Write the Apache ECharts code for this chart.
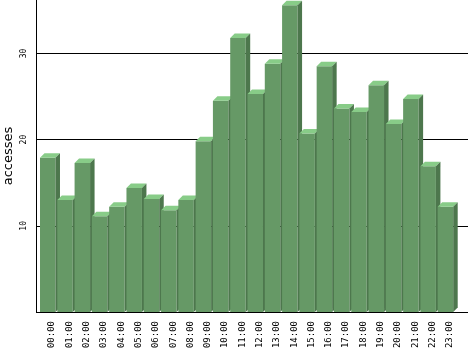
<!DOCTYPE html>
<html>
<head>
<meta charset="utf-8">
<script src="https://cdn.jsdelivr.net/npm/echarts@6/dist/echarts.min.js"></script>
<style>
  html, body { margin: 0; padding: 0; background: #fff; }
  #chart { width: 468px; height: 351px; }
</style>
</head>
<body>
<div id="chart"></div>
<script>
var hours = ['00:00','01:00','02:00','03:00','04:00','05:00','06:00','07:00','08:00','09:00','10:00','11:00',
	'12:00','13:00','14:00','15:00','16:00','17:00','18:00','19:00','20:00','21:00','22:00','23:00'];
var accesses = [17.9,13.0,17.3,11.1,12.2,14.4,13.1,11.8,13.0,19.8,24.5,31.8,
	25.3,28.8,35.6,20.7,28.5,23.6,23.2,26.3,21.8,24.7,16.9,12.2];
var yTicks = [10, 20, 30];
var yMax = 36.2;

function bar3d(params, api){
	var c = api.coord([api.value(0), api.value(1)]);
	var base = api.coord([api.value(0), 0])[1];
	var bw = api.size([1, 0])[0];
	var d = 4.5;
	var x0 = c[0] - bw / 2 + 0.5;
	var w = bw - 1.8;
	var top = c[1];
	return {
		type: 'group',
		children: [{
			type: 'rect',
			shape: { x: x0, y: top, width: w, height: base - top },
			style: { fill: '#669966' }
		}, {
			type: 'polygon',
			shape: { points: [[x0, top], [x0 + d, top - d], [x0 + w + d, top - d], [x0 + w, top]] },
			style: { fill: '#88cc88' }
		}, {
			type: 'polygon',
			shape: { points: [[x0 + w, top], [x0 + w + d, top - d], [x0 + w + d, base - d], [x0 + w, base]] },
			style: { fill: '#4d774d' }
		}]
	};
}

var chart = echarts.init(document.getElementById('chart'));
var option = {
	animation: false,
	grid: [
		{ left: 36, right: 0, top: 0, bottom: 39, outerBoundsMode: 'none' },
		{ left: 39.5, width: 415, top: 0, bottom: 39, outerBoundsMode: 'none' },
		{ left: 43.5, width: 415, top: 0, bottom: 39, outerBoundsMode: 'none' }
	],
	xAxis: [
		{ gridIndex: 0, type: 'value', min: 0, max: 1, show: false },
		{ gridIndex: 1, type: 'category', data: hours, show: false },
		{
			gridIndex: 2, type: 'category', data: hours,
			axisLine: { show: false },
			axisTick: { show: false },
			axisLabel: {
				rotate: 90, margin: 9, interval: 0,
				fontFamily: 'DejaVu Sans Mono', fontSize: 9, color: '#000'
			}
		}
	],
	yAxis: [
		{
			gridIndex: 0, type: 'value', min: 0, max: yMax, interval: 10,
			name: 'accesses', nameLocation: 'middle', nameGap: 21, nameMoveOverlap: false,
			nameTextStyle: { fontFamily: 'DejaVu Sans', fontSize: 13, color: '#000' },
			axisLine: { show: true, lineStyle: { color: '#000', width: 1 } },
			axisTick: { show: false },
			splitLine: { show: true, showMaxLine: false, lineStyle: { color: '#000', width: 1 } },
			axisLabel: {
				rotate: 90, margin: 8,
				fontFamily: 'DejaVu Sans Mono', fontSize: 8, color: '#000',
				formatter: function (v) { return yTicks.indexOf(v) >= 0 ? String(v) : ''; }
			}
		},
		{ gridIndex: 1, type: 'value', min: 0, max: yMax, show: false },
		{ gridIndex: 2, type: 'value', min: 0, max: yMax, show: false }
	],
	series: [{
		type: 'custom',
		xAxisIndex: 1,
		yAxisIndex: 1,
		renderItem: bar3d,
		data: accesses.map(function (v, i) { return [i, v]; })
	}]
};
chart.setOption(option);
</script>
</body>
</html>
